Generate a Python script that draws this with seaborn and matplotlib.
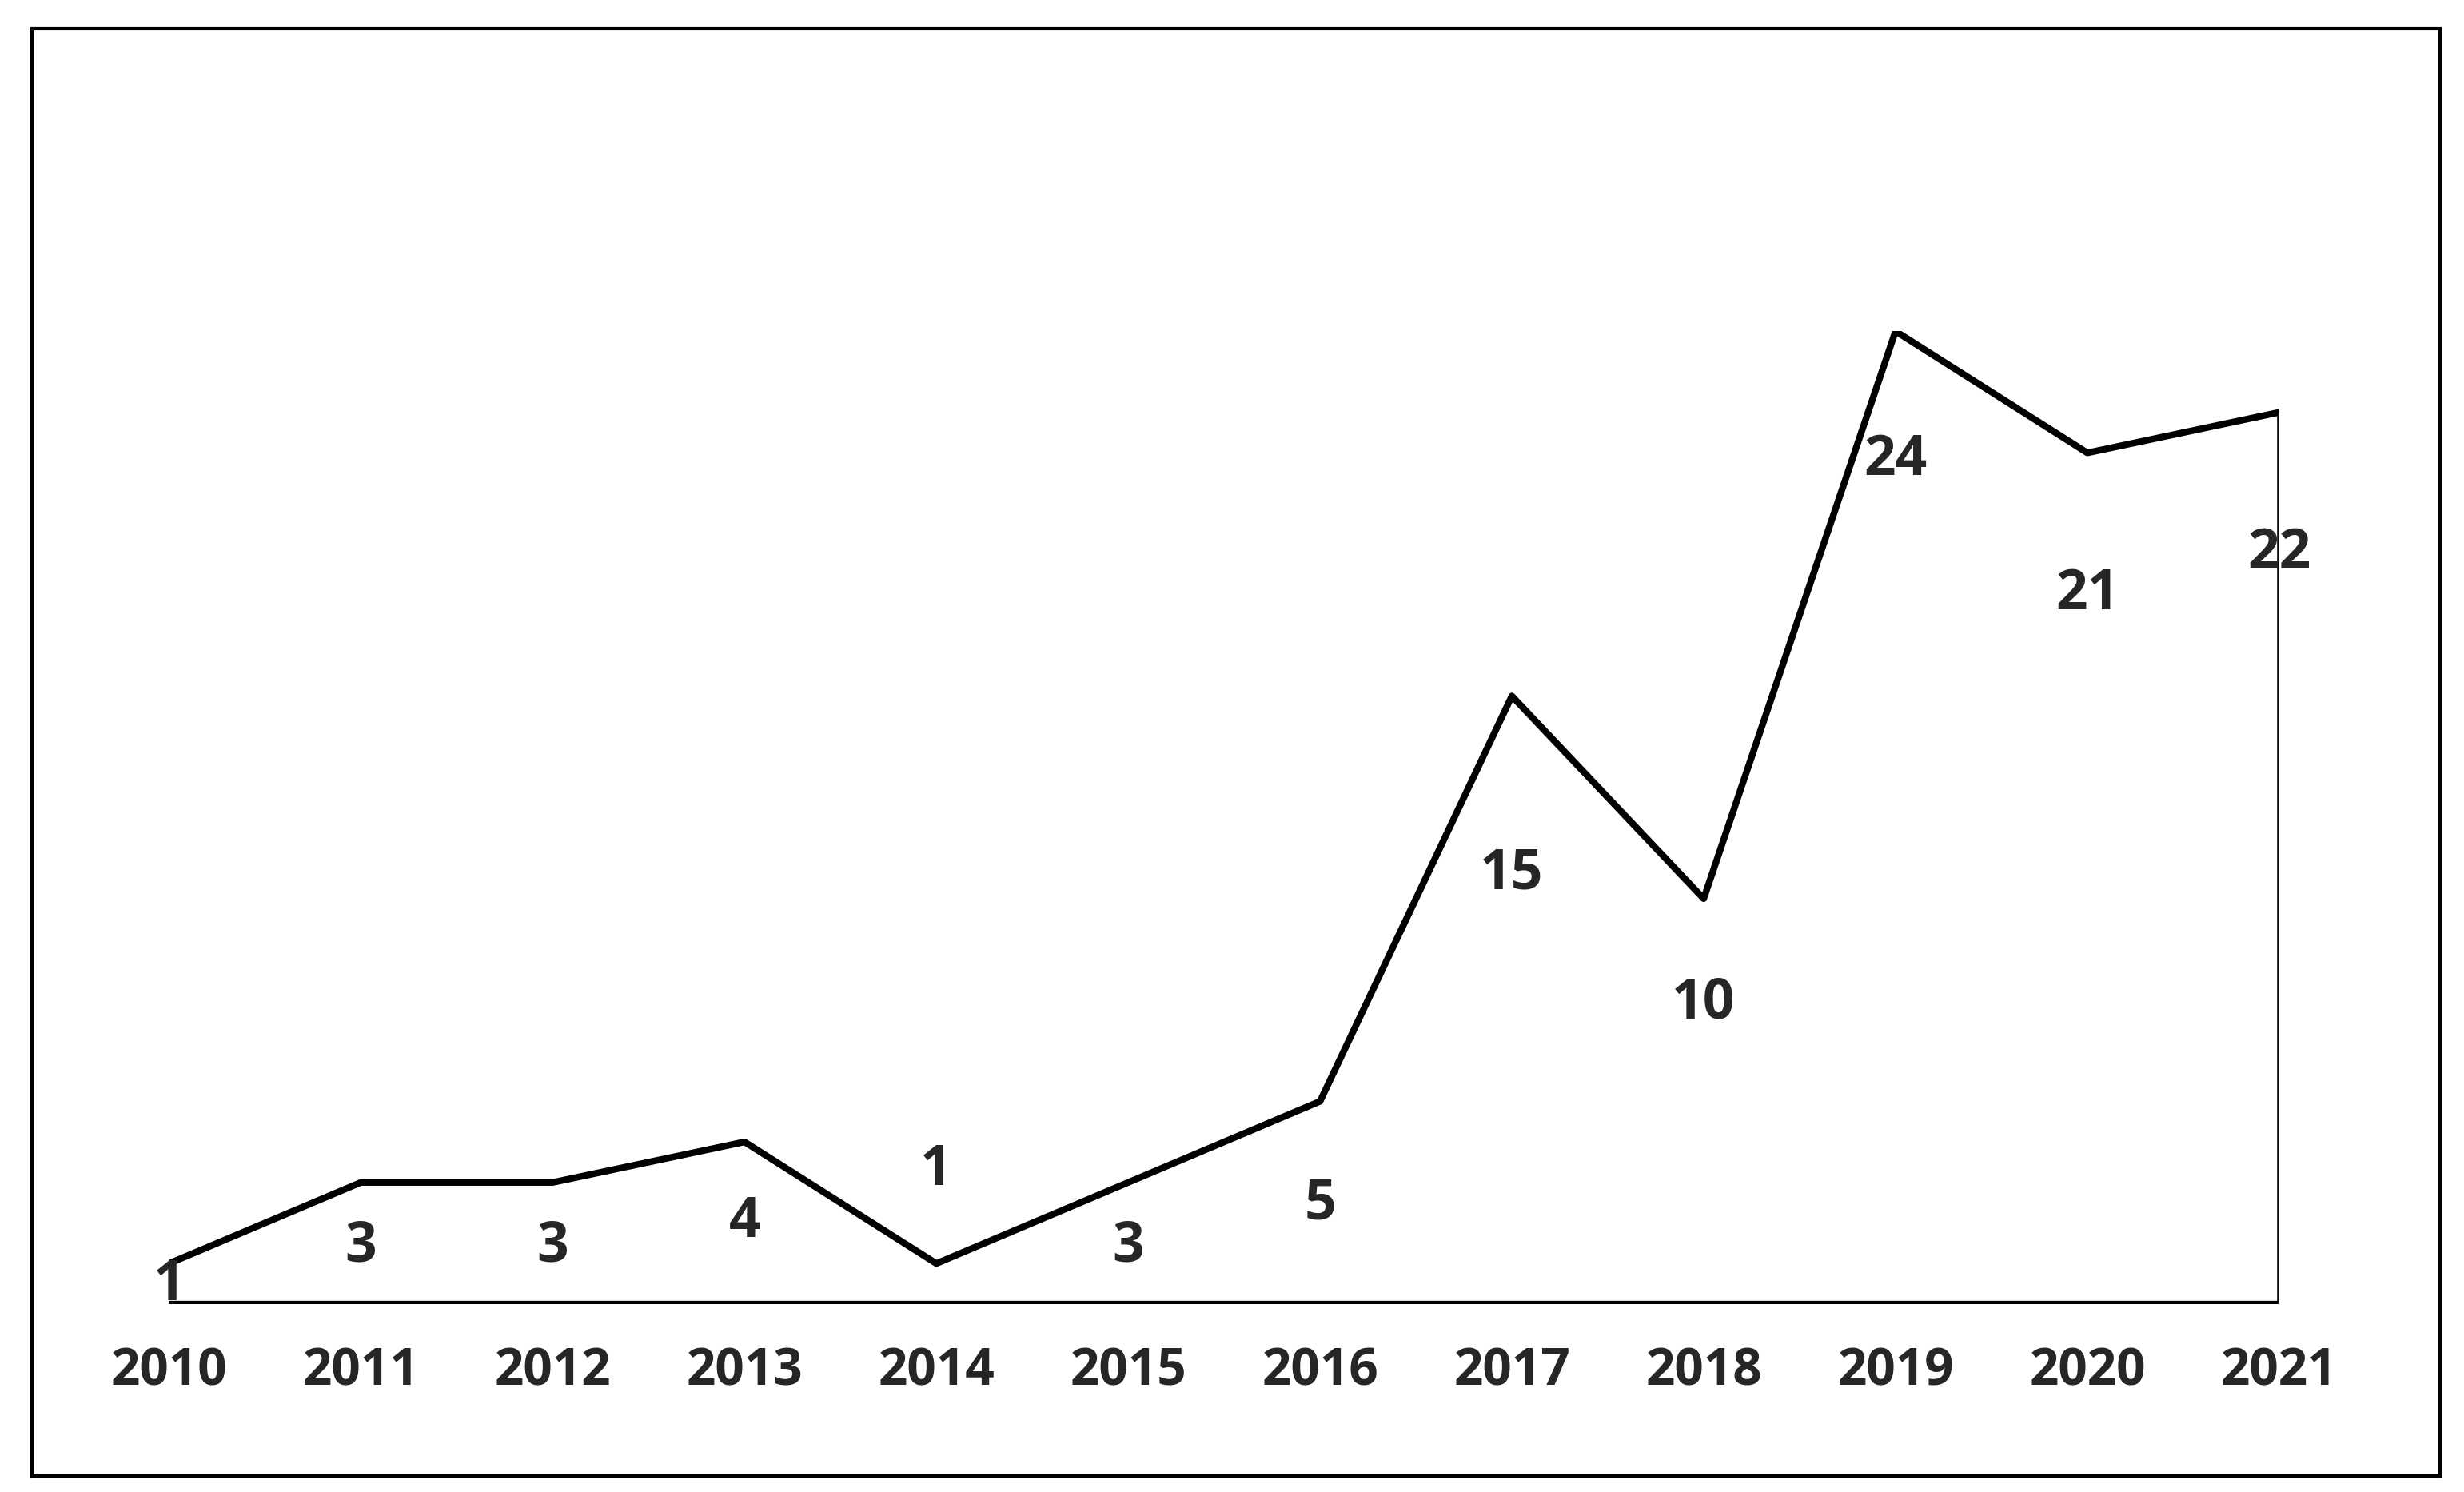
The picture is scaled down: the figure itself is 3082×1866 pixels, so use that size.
import matplotlib
matplotlib.use("Agg")
import matplotlib.pyplot as plt
import seaborn as sns
import pandas as pd
from matplotlib.patches import Rectangle

years = [2010, 2011, 2012, 2013, 2014, 2015, 2016, 2017, 2018, 2019, 2020, 2021]
counts = [1, 3, 3, 4, 1, 3, 5, 15, 10, 24, 21, 22]
# where the value labels sit (data units), as in the original
label_y = [0.45, 1.4, 1.4, 2.0, 3.3, 1.4, 2.45, 10.6, 7.4, 20.8, 17.5, 18.5]

df = pd.DataFrame({"year": years, "count": counts})

sns.set_style("white")
plt.rcParams['font.family'] = ['Open Sans', 'DejaVu Sans']

fig = plt.figure(figsize=(30.82, 18.66), dpi=100)
ax = fig.add_axes([0.0686, 0.126, 0.8564, 0.652])

sns.lineplot(data=df, x="year", y="count", ax=ax, color="black", linewidth=6)
ax.plot([2010, 2021], [0, 0], color="black", linewidth=6, solid_capstyle="butt")
ax.plot([2021, 2021], [0, counts[-1]], color="black", linewidth=4)
ax.plot([2021, 2021], [0, counts[-1]], color="white", linewidth=1.5)

for x, v, ly in zip(years, counts, label_y):
    ax.text(x, ly, str(v), ha="center", va="center", fontsize=50, fontweight="bold")

ax.set_xlim(2010, 2021)
ax.set_ylim(0, 24)
ax.set_xticks(years)
ax.set_xticklabels([str(y) for y in years], fontsize=46, fontweight="bold")
ax.tick_params(axis="x", length=0, pad=38)
ax.set_yticks([])
ax.set_xlabel("")
ax.set_ylabel("")
for s in ax.spines.values():
    s.set_visible(False)
ax.patch.set_alpha(0)

fig.patches.append(Rectangle((20 / 1560, 1 - 935 / 945), 1525 / 1560, 917 / 945,
                             transform=fig.transFigure, fill=False,
                             edgecolor="black", linewidth=3))

fig.savefig("out.png", dpi=100)
